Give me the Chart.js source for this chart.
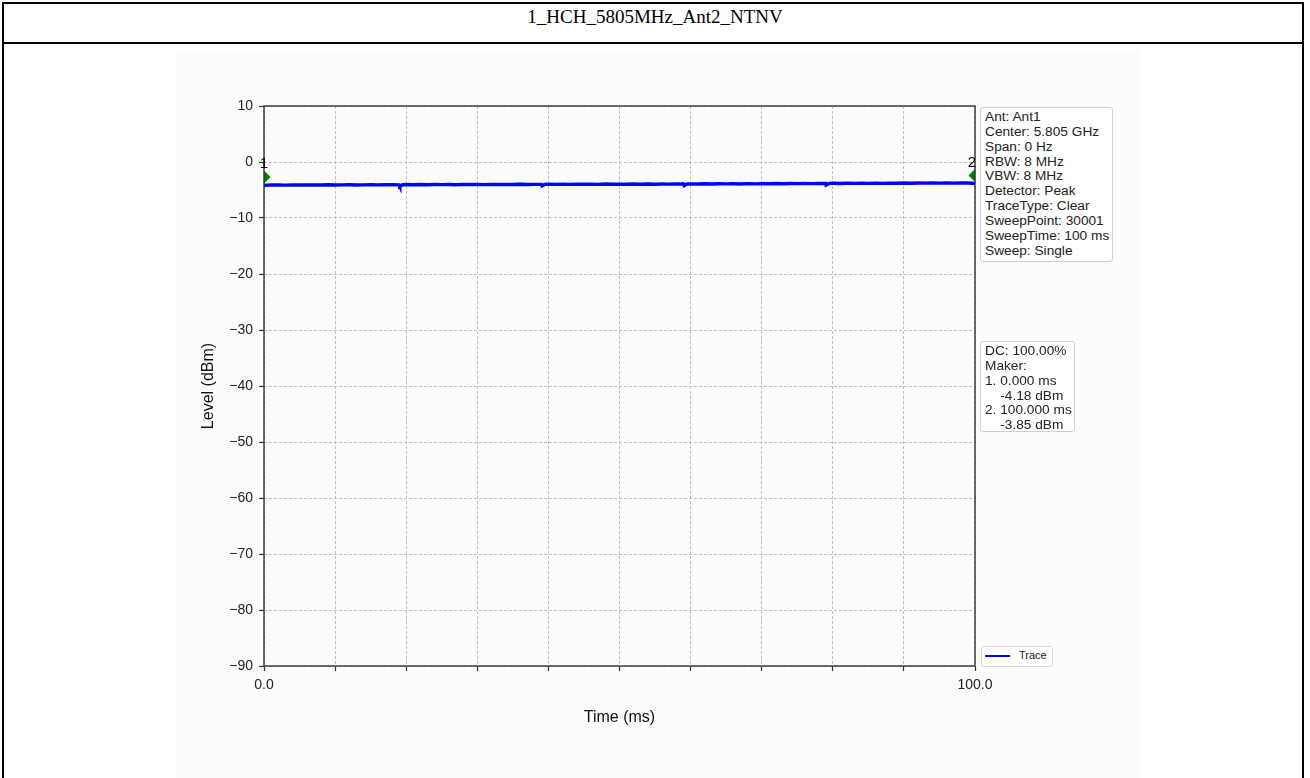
<!DOCTYPE html>
<html>
<head>
<meta charset="utf-8">
<script src="https://cdn.jsdelivr.net/npm/chart.js@4.4.1/dist/chart.umd.min.js"></script>
<style>
  body { margin: 0; background: #fff; font-family: "Liberation Sans", Arial, sans-serif; }
  #frame { position: absolute; left: 2px; top: 2px; width: 1298px; height: 800px; border: 2px solid #000; }
  #titlebar { position: absolute; left: 2px; top: 42px; width: 1302px; height: 2px; background: #000; }
  #title { position: absolute; left: 0; top: 6px; width: 1310px; text-align: center;
           font-family: "Liberation Serif", "Times New Roman", serif; font-size: 19px; color: #000; }
  #figbg { position: absolute; left: 175px; top: 50px; width: 964px; height: 728px; background: #fcfcfc; }
  #wrap { position: absolute; left: 0; top: 0; width: 1310px; height: 778px; }
  .box { position: absolute; border: 1px solid #cfcfcf; border-radius: 3px; background: #fff;
         font-size: 13.7px; line-height: 14.85px; color: #222; padding: 2px 3px 3px 4px; white-space: pre; }
  #legend { position: absolute; left: 981px; top: 646px; width: 70px; height: 19px;
            border: 1px solid #d6d6d6; border-radius: 3px; background: #fff; }
  #legend .swatch { position: absolute; left: 3px; top: 8px; width: 25px; height: 1.5px; background: #0000ff; }
  #legend .lbl { position: absolute; left: 37px; top: 2px; font-size: 11px; color: #222; }
</style>
</head>
<body>
<div id="frame"></div>
<div id="titlebar"></div>
<div id="title">1_HCH_5805MHz_Ant2_NTNV</div>
<div id="figbg"></div>
<div id="wrap"><canvas id="chart" width="1310" height="778"></canvas></div>
<div class="box" id="info" style="left:980px; top:107px; width:124px; height:148px;"></div>
<div class="box" id="maker" style="left:980px; top:341px; width:86px; height:84px;"></div>
<div id="legend"><div class="swatch"></div><div class="lbl">Trace</div></div>
<script>
// trace samples (time in ms, level in dBm)
const timeMs = [
  0, 1, 2, 3, 4, 5, 6, 7, 8, 9, 10, 11, 12, 13, 14, 15, 16, 17, 18, 19, 19.1, 19.5,
  20, 21, 22, 23, 24, 25, 26, 27, 28, 29, 30, 31, 32, 33, 34, 35, 36, 37, 38, 39, 39.1, 39.5,
  40, 41, 42, 43, 44, 45, 46, 47, 48, 49, 50, 51, 52, 53, 54, 55, 56, 57, 58, 59, 59.1, 59.5,
  60, 61, 62, 63, 64, 65, 66, 67, 68, 69, 70, 71, 72, 73, 74, 75, 76, 77, 78, 79, 79.05, 79.5,
  80, 81, 82, 83, 84, 85, 86, 87, 88, 89, 90, 91, 92, 93, 94, 95, 96, 97, 98, 99, 100
];
const levelDbm = [
  -4.18, -4.12, -4.10, -4.13, -4.09, -4.11, -4.08, -4.12, -4.10, -4.07, -4.11, -4.09, -4.06, -4.10, -4.08, -4.05, -4.09, -4.07, -4.04, -4.08, -4.35, -4.06,
  -4.02, -4.06, -4.03, -4.05, -4.01, -4.04, -4.02, -4.06, -4.00, -4.03, -4.01, -4.04, -3.99, -4.02, -4.00, -4.03, -3.98, -4.01, -3.99, -4.00, -4.28, -4.00,
  -3.97, -4.00, -3.96, -3.99, -3.95, -3.98, -3.96, -3.99, -3.94, -3.97, -3.95, -3.98, -3.93, -3.96, -3.94, -3.97, -3.92, -3.95, -3.93, -3.94, -4.22, -3.93,
  -3.90, -3.93, -3.89, -3.92, -3.88, -3.91, -3.89, -3.92, -3.87, -3.90, -3.86, -3.89, -3.85, -3.88, -3.84, -3.87, -3.83, -3.86, -3.82, -3.84, -4.12, -3.82,
  -3.80, -3.83, -3.79, -3.82, -3.78, -3.81, -3.79, -3.82, -3.77, -3.80, -3.76, -3.79, -3.75, -3.78, -3.74, -3.77, -3.75, -3.78, -3.73, -3.76, -3.85
];
const markerTimes = [0, 100];
const markerLevels = [-2.7, -2.4];
const markerNames = ['1', '2'];
const xTickLabels = { 0: '0.0', 100: '100.0' };
const infoLines = ['Ant: Ant1', 'Center: 5.805 GHz', 'Span: 0 Hz', 'RBW: 8 MHz', 'VBW: 8 MHz',
  'Detector: Peak', 'TraceType: Clear', 'SweepPoint: 30001', 'SweepTime: 100 ms', 'Sweep: Single'];
const makerLines = ['DC: 100.00%', 'Maker:', '1. 0.000 ms', '    -4.18 dBm', '2. 100.000 ms', '    -3.85 dBm'];

document.getElementById('info').textContent = infoLines.join('\n');
document.getElementById('maker').textContent = makerLines.join('\n');

const FONT = '"Liberation Sans", Arial, sans-serif';

// frame around plot area (matplotlib spines) + marker numbers
const spinesPlugin = {
  id: 'spines',
  afterDatasetsDraw(chart) {
    const { ctx, chartArea: a } = chart;
    ctx.save();
    ctx.strokeStyle = '#333';
    ctx.lineWidth = 1.4;
    ctx.strokeRect(a.left, a.top, a.right - a.left, a.bottom - a.top);
    ctx.fillStyle = '#000';
    ctx.font = '15px ' + FONT;
    ctx.textAlign = 'center';
    ctx.textBaseline = 'middle';
    const xs = chart.scales.x, ys = chart.scales.y;
    markerNames.forEach((n, i) => {
      const px = xs.getPixelForValue(markerTimes[i]) + (i === 0 ? 0 : -3);
      const py = ys.getPixelForValue(markerLevels[i]) - 13;
      ctx.fillText(n, px, py);
    });
    ctx.restore();
  }
};

const minus = v => String(v).replace('-', '\u2212');

const gridOpts = {
  color: '#b8b8b8', lineWidth: 0.9,
  tickLength: 5, tickColor: '#333', tickWidth: 1.2, tickBorderDash: []
};

new Chart(document.getElementById('chart'), {
  type: 'scatter',
  data: {
    datasets: [
      {
        label: 'Trace',
        data: timeMs.map((t, i) => ({ x: t, y: levelDbm[i] })),
        showLine: true,
        borderColor: '#0000ff',
        borderWidth: 3.4,
        pointRadius: 0,
        tension: 0,
        clip: 0,
        order: 2
      },
      {
        label: 'Markers',
        data: markerTimes.map((t, i) => ({ x: t, y: markerLevels[i] })),
        showLine: false,
        pointStyle: 'rectRot',
        pointRadius: 6.5,
        backgroundColor: '#008000',
        borderColor: '#008000',
        borderWidth: 0,
        clip: 0,
        order: 1
      }
    ]
  },
  options: {
    responsive: false,
    animation: false,
    layout: { padding: { left: 190, top: 106, right: 335, bottom: 42 } },
    plugins: { legend: { display: false }, tooltip: { enabled: false } },
    scales: {
      x: {
        type: 'linear', min: 0, max: 100,
        afterFit: s => { s.height = 70; },
        ticks: {
          stepSize: 10, autoSkip: false, maxRotation: 0, padding: 6,
          color: '#222', font: { family: FONT, size: 14 },
          callback: v => xTickLabels[v] || ''
        },
        grid: gridOpts,
        border: { display: false, dash: [3, 2] },
        title: { display: true, text: 'Time (ms)', color: '#111',
                 font: { family: FONT, size: 16 }, padding: { top: 0, bottom: 9 } }
      },
      y: {
        min: -90, max: 10,
        afterFit: s => { s.width = 74; },
        ticks: {
          stepSize: 10, padding: 6,
          color: '#222', font: { family: FONT, size: 14 },
          callback: v => minus(v)
        },
        grid: gridOpts,
        border: { display: false, dash: [3, 2] },
        title: { display: true, text: 'Level (dBm)', color: '#111',
                 font: { family: FONT, size: 16 }, padding: { top: 9, bottom: 0 } }
      }
    }
  },
  plugins: [spinesPlugin]
});
</script>
</body>
</html>
